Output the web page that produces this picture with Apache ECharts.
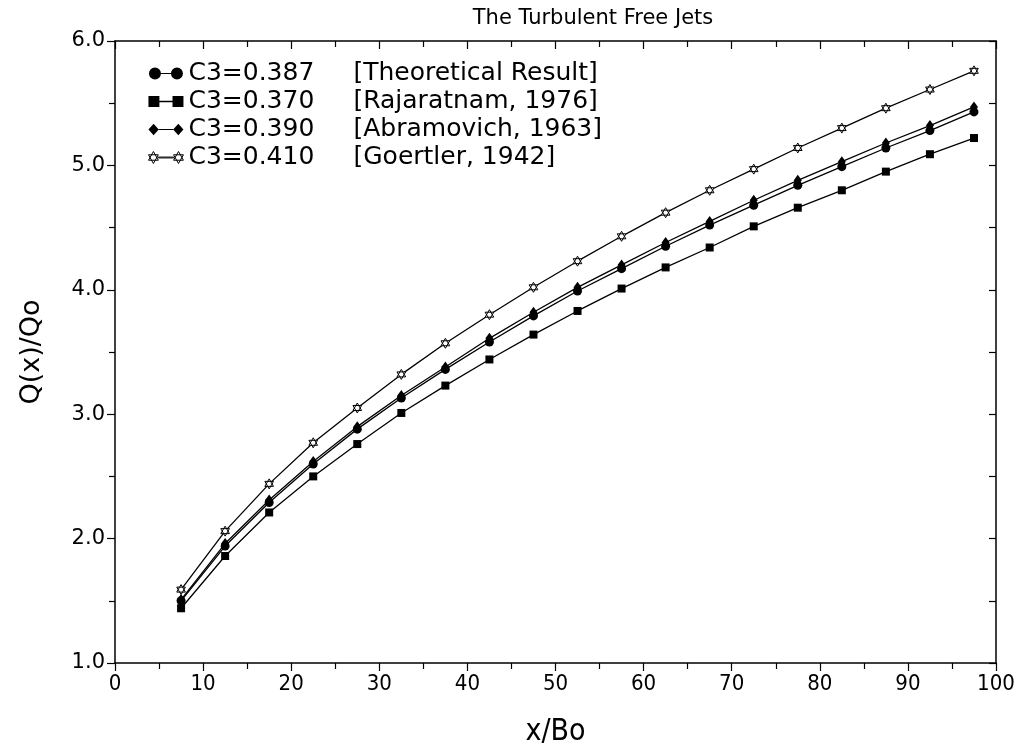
<!DOCTYPE html>
<html>
<head>
<meta charset="utf-8">
<script src="https://cdn.jsdelivr.net/npm/echarts@6/dist/echarts.min.js"></script>
<style>
html,body{margin:0;padding:0;background:#fff;}
#chart{width:1018px;height:752px;}
</style>
</head>
<body>
<div id="chart"></div>
<script>
// ---- data ----
const xValues = [7.5, 12.5, 17.5, 22.5, 27.5, 32.5, 37.5, 42.5, 47.5, 52.5, 57.5, 62.5, 67.5, 72.5, 77.5, 82.5, 87.5, 92.5, 97.5];
const c3Labels = ['C3=0.387', 'C3=0.370', 'C3=0.390', 'C3=0.410'];
const sources = ['[Theoretical Result]', '[Rajaratnam, 1976]', '[Abramovich, 1963]', '[Goertler, 1942]'];
const theoretical = [1.50, 1.94, 2.29, 2.60, 2.88, 3.13, 3.36, 3.58, 3.79, 3.99, 4.17, 4.35, 4.52, 4.68, 4.84, 4.99, 5.14, 5.28, 5.43];
const rajaratnam  = [1.44, 1.86, 2.21, 2.50, 2.76, 3.01, 3.23, 3.44, 3.64, 3.83, 4.01, 4.18, 4.34, 4.51, 4.66, 4.80, 4.95, 5.09, 5.22];
const abramovich  = [1.51, 1.96, 2.31, 2.62, 2.90, 3.15, 3.38, 3.61, 3.82, 4.02, 4.20, 4.38, 4.55, 4.72, 4.88, 5.03, 5.18, 5.32, 5.47];
const goertler    = [1.59, 2.06, 2.44, 2.77, 3.05, 3.32, 3.57, 3.80, 4.02, 4.23, 4.43, 4.62, 4.80, 4.97, 5.14, 5.30, 5.46, 5.61, 5.76];
const xTickLabels = ['0', '10', '20', '30', '40', '50', '60', '70', '80', '90', '100'];
const yTickLabels = ['1.0', '2.0', '3.0', '4.0', '5.0', '6.0'];

const seriesValues = [theoretical, rajaratnam, abramovich, goertler];
const pair = (vals) => xValues.map((x, i) => [x, vals[i]]);

const wide = "'DejaVu Sans', 'Liberation Sans', sans-serif";
const narrow = "'Liberation Sans Narrow', 'DejaVu Sans Condensed', 'DejaVu Sans', sans-serif";

const hexagram = 'path://M0,-10 L8.66,5 L-8.66,5 Z M0,10 L-8.66,-5 L8.66,-5 Z';
const symbols = ['circle', 'rect', 'diamond', hexagram];
const symbolSizes = [9, 8, [8, 11], 10];

const legendIcons = [
  'path://M0,6 A6,6 0 1,0 12,6 A6,6 0 1,0 0,6 Z M12,5.4 L22,5.4 L22,6.6 L12,6.6 Z M22,6 A6,6 0 1,0 34,6 A6,6 0 1,0 22,6 Z',
  'path://M1,1 L11,1 L11,11 L1,11 Z M11,5.4 L23,5.4 L23,6.6 L11,6.6 Z M23,1 L33,1 L33,11 L23,11 Z',
  'path://M0,6 L5,0.5 L10,6 L5,11.5 Z M10,5.4 L24,5.4 L24,6.6 L10,6.6 Z M24,6 L29,0.5 L34,6 L29,11.5 Z',
  'path://M5.5,0.5 L10,8.5 L1,8.5 Z M5.5,11.5 L1,3.5 L10,3.5 Z M10,5.6 L24,5.6 L24,6.4 L10,6.4 Z M28.5,0.5 L33,8.5 L24,8.5 Z M28.5,11.5 L24,3.5 L33,3.5 Z'
];

const chart = echarts.init(document.getElementById('chart'), null, {renderer: 'canvas'});

const series = c3Labels.map((name, i) => ({
  name: name,
  type: 'line',
  data: pair(seriesValues[i]),
  symbol: symbols[i],
  symbolSize: symbolSizes[i],
  symbolKeepAspect: true,
  showSymbol: true,
  lineStyle: {color: '#000', width: 1.3},
  itemStyle: i === 3 ? {color: '#fff', borderColor: '#000', borderWidth: 1} : {color: '#000', borderWidth: 0},
  emphasis: {disabled: true},
  z: 3 + (i === 0 ? 1 : 0),
  xAxisIndex: 0,
  yAxisIndex: 0
}));

const option = {
  animation: false,
  backgroundColor: '#fff',
  title: {
    text: 'The Turbulent Free Jets',
    left: 588,
    textAlign: 'center',
    top: 3,
    textStyle: {fontFamily: wide, fontSize: 21, fontWeight: 'normal', color: '#000'}
  },
  grid: {left: 115, right: 22, top: 41, bottom: 86, containLabel: false, show: false},
  legend: {
    orient: 'vertical',
    left: 143,
    top: 55,
    itemWidth: 35,
    itemHeight: 12,
    itemGap: 1,
    selectedMode: false,
    data: c3Labels.map((name, i) => ({
      name: name,
      icon: legendIcons[i],
      itemStyle: i === 3 ? {color: '#fff', borderColor: '#000', borderWidth: 1} : {color: '#000', borderWidth: 0}
    })),
    formatter: (name) => {
      const i = c3Labels.indexOf(name);
      return '{a|' + name + '}{b|' + sources[i] + '}';
    },
    textStyle: {
      color: '#000',
      fontFamily: wide,
      fontSize: 25,
      lineHeight: 27,
      rich: {
        a: {width: 165, fontFamily: wide, fontSize: 25, color: '#000', lineHeight: 27},
        b: {fontFamily: wide, fontSize: 25, color: '#000', lineHeight: 27}
      }
    }
  },
  xAxis: [
    {
      type: 'value', position: 'bottom', min: 0, max: 100, interval: 10,
      name: 'x/Bo', nameLocation: 'middle', nameGap: 54,
      nameTextStyle: {fontFamily: narrow, fontSize: 30, color: '#000'},
      axisLine: {show: true, onZero: false, lineStyle: {color: '#000', width: 1.5}},
      axisTick: {show: true, inside: false, length: 8, lineStyle: {color: '#000', width: 1.2}},
      minorTick: {show: true, splitNumber: 2, length: 6, lineStyle: {color: '#000', width: 1.2}},
      axisLabel: {
        margin: 10, color: '#000', fontFamily: narrow, fontSize: 22,
        formatter: (v) => xTickLabels[Math.round(v / 10)]
      },
      splitLine: {show: false}
    },
    {
      type: 'value', position: 'top', min: 0, max: 100, interval: 10,
      axisLine: {show: true, onZero: false, lineStyle: {color: '#000', width: 1.5}},
      axisTick: {show: true, inside: true, length: 8, lineStyle: {color: '#000', width: 1.2}},
      minorTick: {show: true, splitNumber: 2, length: 6, lineStyle: {color: '#000', width: 1.2}},
      axisLabel: {show: false},
      splitLine: {show: false}
    }
  ],
  yAxis: [
    {
      type: 'value', position: 'left', min: 1, max: 6, interval: 1,
      name: 'Q(x)/Qo', nameLocation: 'middle', nameGap: 70, nameRotate: 90,
      nameTextStyle: {fontFamily: wide, fontSize: 27, color: '#000'},
      axisLine: {show: true, onZero: false, lineStyle: {color: '#000', width: 1.5}},
      axisTick: {show: true, inside: false, length: 8, lineStyle: {color: '#000', width: 1.2}},
      minorTick: {show: true, splitNumber: 2, length: 6, lineStyle: {color: '#000', width: 1.2}},
      axisLabel: {
        margin: 10, color: '#000', fontFamily: wide, fontSize: 21,
        formatter: (v) => yTickLabels[Math.round(v - 1)]
      },
      splitLine: {show: false}
    },
    {
      type: 'value', position: 'right', min: 1, max: 6, interval: 1,
      axisLine: {show: true, onZero: false, lineStyle: {color: '#000', width: 1.5}},
      axisTick: {show: true, inside: true, length: 7, lineStyle: {color: '#000', width: 1.2}},
      minorTick: {show: true, splitNumber: 2, length: 7, lineStyle: {color: '#000', width: 1.2}},
      axisLabel: {show: false},
      splitLine: {show: false}
    }
  ],
  series: series
};

chart.setOption(option);
</script>
</body>
</html>
